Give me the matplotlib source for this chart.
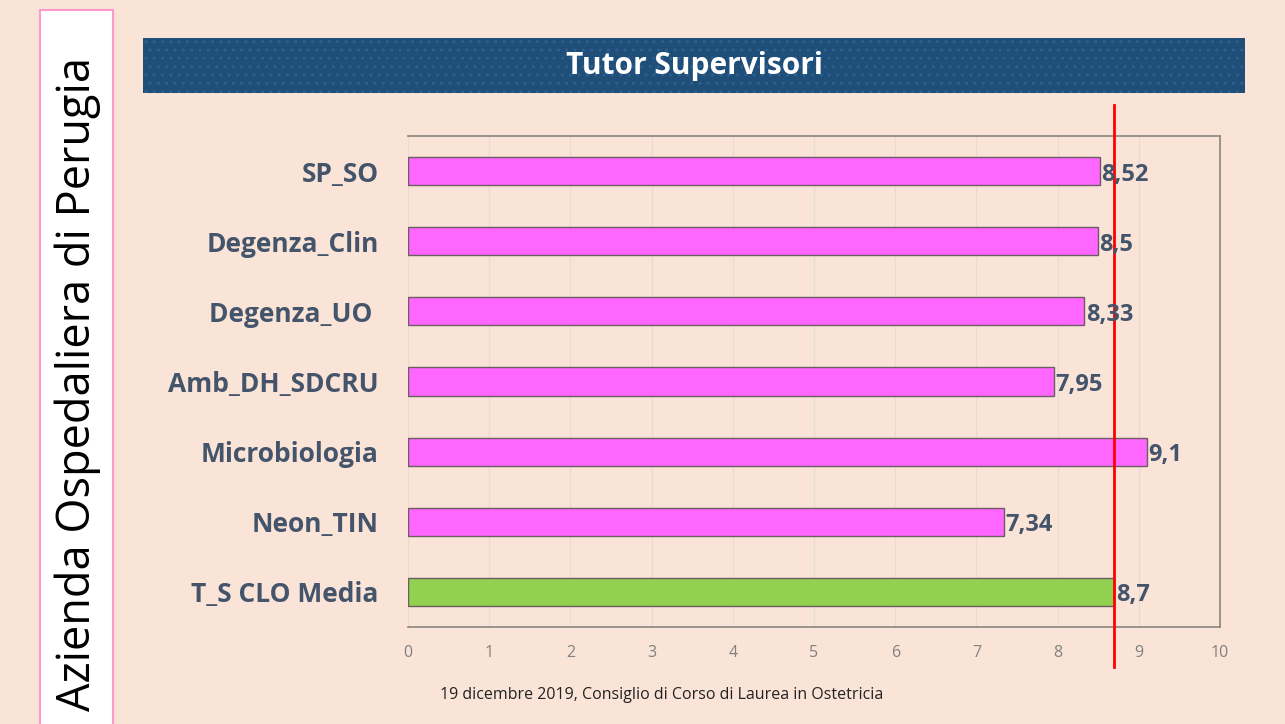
import matplotlib
matplotlib.use("Agg")
import matplotlib.pyplot as plt
from matplotlib.patches import Rectangle

categories = ["SP_SO", "Degenza_Clin", "Degenza_UO ", "Amb_DH_SDCRU", "Microbiologia", "Neon_TIN", "T_S CLO Media"]
values = [8.52, 8.5, 8.33, 7.95, 9.1, 7.34, 8.7]
value_labels = ["8,52", "8,5", "8,33", "7,95", "9,1", "7,34", "8,7"]
bar_colors = ["#FF66FF"] * 6 + ["#92D050"]
reference_value = 8.7
x_ticks = list(range(0, 11))

title = "Tutor Supervisori"
side_text = "Azienda Ospedaliera di Perugia"
footer = "19 dicembre 2019, Consiglio di Corso di Laurea in Ostetricia"

W, H = 1285, 724
bg = "#FAE4D8"
label_color = "#44546A"

fig = plt.figure(figsize=(W / 100, H / 100), dpi=100, facecolor=bg)

def fx(px):
    return px / W

def fy(py):
    return 1 - py / H

# left white box with pink border
fig.patches.append(Rectangle((fx(40), fy(730)), fx(113) - fx(40), fy(10) - fy(730),
                             transform=fig.transFigure, facecolor="white",
                             edgecolor="#FF99CC", linewidth=1.5, zorder=0))
fig.text(fx(78), fy(384), side_text, rotation=90, ha="center", va="center",
         fontsize=32.5, family="Open Sans", color="black")

# title banner
fig.patches.append(Rectangle((fx(143), fy(93)), fx(1245) - fx(143), fy(38) - fy(93),
                             transform=fig.transFigure, facecolor="#1F4E79",
                             edgecolor="#2E5F8E", hatch="..", linewidth=0, zorder=0))
fig.text(fx(694), fy(66), title, ha="center", va="center", fontsize=21.5,
         fontweight="bold", family="Open Sans", color="white")

ax = fig.add_axes([fx(408), fy(627), fx(1220) - fx(408), fy(136) - fy(627)])
ax.set_facecolor("none")
y = list(range(len(categories)))
ax.barh(y, values, height=0.4, color=bar_colors, edgecolor="#6B5E62", linewidth=1.0, zorder=2)
ax.set_ylim(len(categories) - 0.5, -0.5)
ax.set_xlim(0, 10)
ax.set_xticks(x_ticks)
ax.set_xticklabels([str(t) for t in x_ticks], color="#808080", fontsize=11.5, family="Open Sans")
ax.set_yticks(y)
ax.set_yticklabels(categories, fontsize=19, fontweight="bold", family="Open Sans", color=label_color)
ax.tick_params(axis="y", length=0, pad=21)
ax.tick_params(axis="x", length=0, pad=13)
ax.grid(axis="x", color="#E6DCD6", linewidth=1, zorder=0)
ax.set_axisbelow(True)
for s in ["top", "right", "bottom"]:
    ax.spines[s].set_color("#8C8480")
    ax.spines[s].set_linewidth(1.2)
ax.spines["left"].set_visible(False)

for yi, v, lab in zip(y, values, value_labels):
    ax.annotate(lab, (v, yi), xytext=(1, -2.5), textcoords="offset points", ha="left", va="center",
                fontsize=17, fontweight="bold", family="Open Sans", color=label_color, zorder=4)

ax.axvline(reference_value, ymin=-0.081, ymax=1.063, color="#FF0000", linewidth=2, clip_on=False, zorder=3)

fig.text(fx(440), fy(695), footer, ha="left", va="center", fontsize=11.5, family="Open Sans", color="#222222")

fig.savefig("out.png", dpi=100, facecolor=bg)
